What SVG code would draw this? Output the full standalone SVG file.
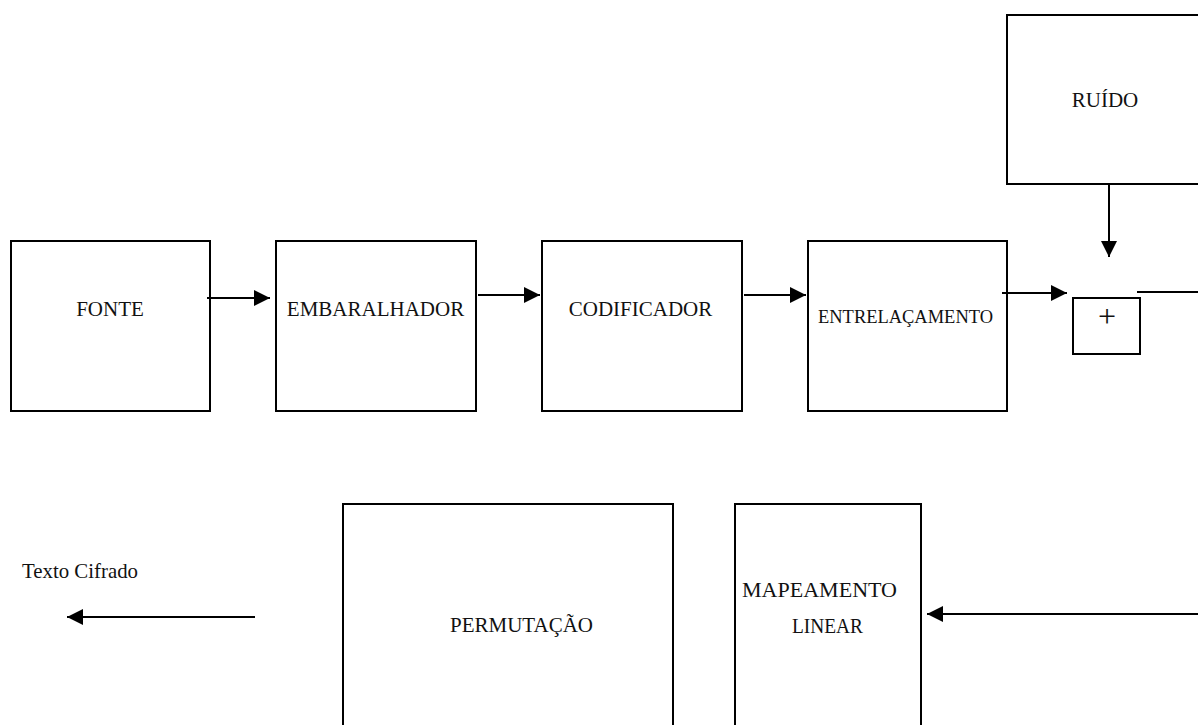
<svg xmlns="http://www.w3.org/2000/svg" width="1198" height="725" viewBox="0 0 1198 725">
  <style>
    .box { fill: #ffffff; stroke: #000000; stroke-width: 2; }
    .lbl { font-family: "Liberation Serif", "Times New Roman", serif; font-size: 21px; fill: #111111; }
    .wire { stroke: #000000; stroke-width: 2; fill: none; }
  </style>
  <defs>
    <marker id="arrow" markerUnits="userSpaceOnUse" markerWidth="16" markerHeight="16" viewBox="0 0 15 15" refX="15" refY="7.5" orient="auto">
      <polygon points="0,0 15,7.5 0,15" fill="#000000"/>
    </marker>
  </defs>
  <rect width="1198" height="725" fill="#ffffff"/>

  <!-- transmission chain, top row -->
  <g id="fonte">
    <rect class="box" x="11" y="241" width="199" height="170"/>
    <text class="lbl" x="110" y="316" text-anchor="middle">FONTE</text>
  </g>
  <g id="embaralhador">
    <rect class="box" x="276" y="241" width="200" height="170"/>
    <text class="lbl" x="375.5" y="316" text-anchor="middle">EMBARALHADOR</text>
  </g>
  <g id="codificador">
    <rect class="box" x="542" y="241" width="200" height="170"/>
    <text class="lbl" x="640.5" y="316" text-anchor="middle">CODIFICADOR</text>
  </g>
  <g id="entrelacamento">
    <rect class="box" x="808" y="241" width="199" height="170"/>
    <text class="lbl" x="818" y="323" style="font-size:18px" textLength="175" lengthAdjust="spacingAndGlyphs">ENTRELAÇAMENTO</text>
  </g>
  <g id="ruido">
    <rect class="box" x="1007" y="15" width="200" height="169"/>
    <text class="lbl" x="1105" y="107" text-anchor="middle">RUÍDO</text>
  </g>
  <g id="somador">
    <rect class="box" x="1073" y="298" width="67" height="56"/>
    <text class="lbl" x="1107" y="327" text-anchor="middle" style="font-size:32px">+</text>
  </g>

  <!-- bottom row -->
  <g id="permutacao">
    <rect class="box" x="343" y="504" width="330" height="260"/>
    <text class="lbl" x="521.5" y="632" text-anchor="middle">PERMUTAÇÃO</text>
  </g>
  <g id="mapeamento">
    <rect class="box" x="735" y="504" width="186" height="260"/>
    <text class="lbl" x="742" y="597" textLength="155" lengthAdjust="spacingAndGlyphs">MAPEAMENTO</text>
    <text class="lbl" x="792" y="633" textLength="71" lengthAdjust="spacingAndGlyphs">LINEAR</text>
  </g>
  <g id="saida">
    <text class="lbl" x="22" y="578" textLength="116" lengthAdjust="spacingAndGlyphs">Texto Cifrado</text>
  </g>

  <!-- connectors -->
  <g id="connectors">
    <line class="wire" x1="207" y1="298" x2="270" y2="298" marker-end="url(#arrow)"/>
    <line class="wire" x1="478" y1="295" x2="540" y2="295" marker-end="url(#arrow)"/>
    <line class="wire" x1="744" y1="295" x2="806" y2="295" marker-end="url(#arrow)"/>
    <line class="wire" x1="1002" y1="293" x2="1067" y2="293" marker-end="url(#arrow)"/>
    <line class="wire" x1="1109" y1="185" x2="1109" y2="257" marker-end="url(#arrow)"/>
    <line class="wire" x1="1137" y1="292" x2="1198" y2="292"/>
    <line class="wire" x1="1198" y1="614" x2="927" y2="614" marker-end="url(#arrow)"/>
    <line class="wire" x1="255" y1="617" x2="67" y2="617" marker-end="url(#arrow)"/>
  </g>
</svg>
